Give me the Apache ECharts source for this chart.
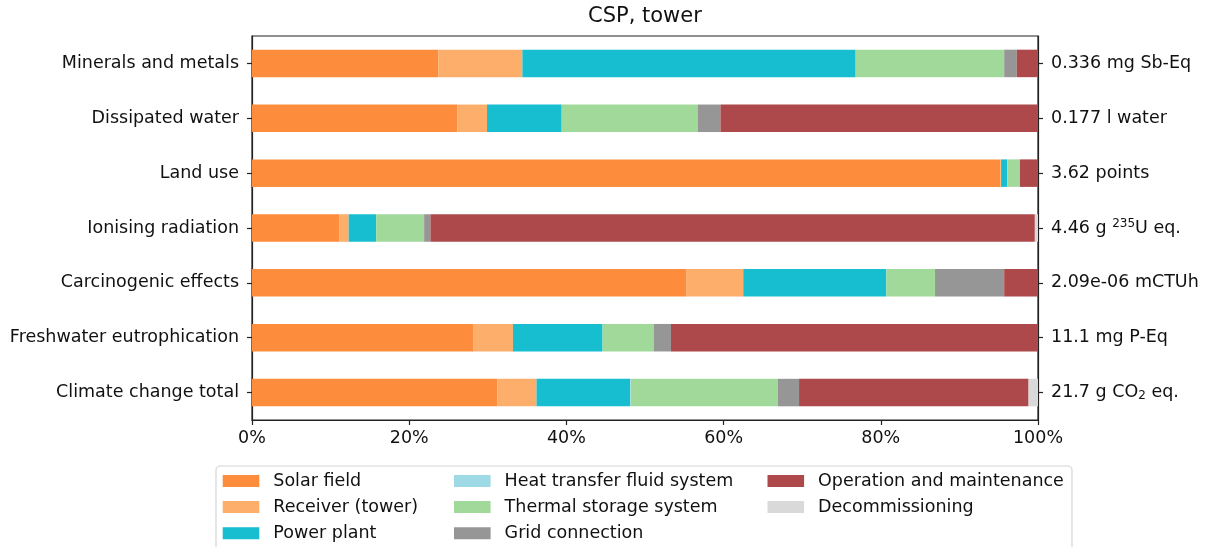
<!DOCTYPE html>
<html>
<head>
<meta charset="utf-8">
<title>CSP, tower</title>
<script src="https://cdn.jsdelivr.net/npm/echarts@6/dist/echarts.min.js"></script>
<style>
    html, body { margin: 0; padding: 0; background: #fff; }
    #chart { width: 1207px; height: 547px; }
</style>
</head>
<body>
<div id="chart"></div>
<script>
    // impact categories, top to bottom
    const categories = ['Minerals and metals', 'Dissipated water', 'Land use', 'Ionising radiation',
        'Carcinogenic effects', 'Freshwater eutrophication', 'Climate change total'];
    // totals shown on the right axis
    const totals = ['0.336 mg Sb-Eq', '0.177 l water', '3.62 points', '4.46 g {sup|235}U eq.',
        '2.09e-06 mCTUh', '11.1 mg P-Eq', '21.7 g CO{sub|2} eq.'];
    const xTicks = [0, 20, 40, 60, 80, 100];

    // contribution shares, %
    const solarField = [23.7, 26.1, 95.2, 11.1, 55.3, 28.2, 31.2];
    const receiver = [10.7, 3.8, 0.1, 1.2, 7.2, 5.0, 5.0];
    const powerPlant = [42.4, 9.5, 0.8, 3.5, 18.2, 11.4, 11.9];
    const heatTransfer = [0, 0, 0, 0, 0, 0, 0.1];
    const thermalStorage = [18.9, 17.3, 1.6, 6.1, 6.2, 6.5, 18.7];
    const gridConnection = [1.6, 2.9, 0, 0.8, 8.8, 2.2, 2.7];
    const operation = [2.7, 40.4, 2.3, 76.9, 4.3, 46.7, 29.2];
    const decommissioning = [0, 0, 0, 0.4, 0, 0, 1.2];

    const components = [
        { name: 'Solar field', color: '#fd8d3c', data: solarField },
        { name: 'Receiver (tower)', color: '#fdae6b', data: receiver },
        { name: 'Power plant', color: '#17becf', data: powerPlant },
        { name: 'Heat transfer fluid system', color: '#9edae5', data: heatTransfer },
        { name: 'Thermal storage system', color: '#a1d99b', data: thermalStorage },
        { name: 'Grid connection', color: '#969696', data: gridConnection },
        { name: 'Operation and maintenance', color: '#ad494a', data: operation },
        { name: 'Decommissioning', color: '#d9d9d9', data: decommissioning }
    ];

    const font = 'DejaVu Sans';
    const textColor = '#111';
    const axisColor = '#222';

    const legendBase = {
        orient: 'vertical',
        top: 472,
        padding: 0,
        icon: 'rect',
        itemWidth: 36.6,
        itemHeight: 12,
        itemGap: 8.1,
        selectedMode: false,
        textStyle: {
            fontFamily: font,
            fontSize: 17.5,
            lineHeight: 17.5,
            color: textColor,
            padding: [0, 0, 0, 9]
        }
    };

    const option = {
        animation: false,
        title: {
            text: 'CSP, tower',
            left: 588,
            top: 6,
            padding: 0,
            textStyle: { fontFamily: font, fontSize: 21, fontWeight: 'normal', color: textColor }
        },
        legend: [
            Object.assign({}, legendBase, { left: 222.7, data: components.slice(0, 3).map(c => c.name) }),
            Object.assign({}, legendBase, { left: 454, data: components.slice(3, 6).map(c => c.name) }),
            Object.assign({}, legendBase, { left: 767.5, data: components.slice(6).map(c => c.name) })
        ],
        graphic: [{
            type: 'rect',
            shape: { x: 216, y: 466, width: 856, height: 100, r: 4 },
            style: { fill: '#fff', stroke: '#d5d5d5', lineWidth: 1.2 },
            z: -1
        }],
        grid: {
            left: 252,
            right: 169,
            top: 36,
            height: 384,
            show: true,
            borderColor: axisColor,
            borderWidth: 1.2,
            backgroundColor: 'transparent'
        },
        xAxis: {
            type: 'value',
            min: xTicks[0],
            max: xTicks[xTicks.length - 1],
            interval: 20,
            axisLine: { show: true, lineStyle: { color: axisColor, width: 1.2 } },
            axisTick: { show: true, length: 5, lineStyle: { color: axisColor, width: 1.2 } },
            splitLine: { show: false },
            axisLabel: {
                formatter: '{value}%',
                margin: 9,
                fontFamily: font,
                fontSize: 17.5,
                color: textColor
            }
        },
        yAxis: [{
            type: 'category',
            data: categories,
            inverse: true,
            position: 'left',
            axisLine: { show: true, lineStyle: { color: axisColor, width: 1.2 } },
            axisTick: { show: true, alignWithLabel: true, length: 5, lineStyle: { color: axisColor, width: 1.2 } },
            axisLabel: { margin: 13, fontFamily: font, fontSize: 17.5, color: textColor }
        }, {
            type: 'category',
            data: totals,
            inverse: true,
            position: 'right',
            axisLine: { show: true, lineStyle: { color: axisColor, width: 1.2 } },
            axisTick: { show: true, alignWithLabel: true, length: 5, lineStyle: { color: axisColor, width: 1.2 } },
            axisLabel: {
                margin: 13,
                fontFamily: font,
                fontSize: 17.5,
                color: textColor,
                rich: {
                    sup: { fontFamily: font, fontSize: 12, color: textColor, padding: [0, 0, 9, 0] },
                    sub: { fontFamily: font, fontSize: 12, color: textColor, padding: [6, 0, 0, 0] }
                }
            }
        }],
        series: components.map(c => ({
            name: c.name,
            type: 'bar',
            stack: 'share',
            yAxisIndex: 0,
            barWidth: 27.5,
            itemStyle: { color: c.color },
            emphasis: { disabled: true },
            data: c.data
        }))
    };

    const chart = echarts.init(document.getElementById('chart'));
    chart.setOption(option);
    window.addEventListener('resize', function () {
        chart.resize();
    });
</script>
</body>
</html>
